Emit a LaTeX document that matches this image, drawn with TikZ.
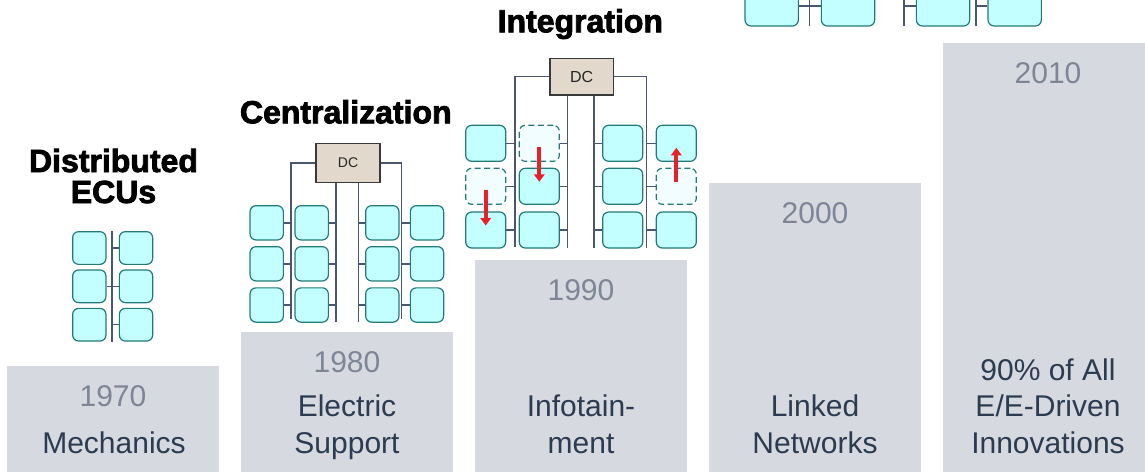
\documentclass[tikz,border=0pt]{standalone}
\usepackage{fontspec}
\setmainfont{Liberation Sans}
\newfontfamily\titlefont[FakeBold=2.5]{Liberation Sans Bold}
\usetikzlibrary{arrows.meta}

\definecolor{barfill}{HTML}{D6D9E0}
\definecolor{yeartext}{HTML}{7E8696}
\definecolor{labeltext}{HTML}{2C3B50}
\definecolor{ecufill}{HTML}{C4FFFF}
\definecolor{ecuborder}{HTML}{227A78}
\definecolor{ghostfill}{HTML}{F2FDFF}
\definecolor{busline}{HTML}{4A5570}
\definecolor{dcfill}{HTML}{E2D9CC}
\definecolor{dcborder}{HTML}{3A3A3A}
\definecolor{movered}{HTML}{E8202A}

\begin{document}
\begin{tikzpicture}[
  x=1pt, y=-1pt,
  bar/.style={fill=barfill, draw=none, minimum width=212pt, inner sep=0pt, outer sep=0pt},
  yearlbl/.style={text=yeartext, font=\fontsize{30}{36}\selectfont, anchor=base, inner sep=0pt},
  steplbl/.style={text=labeltext, font=\fontsize{30}{36}\selectfont, anchor=base, inner sep=0pt},
  title/.style={text=black, font=\titlefont\fontsize{32}{32}\selectfont, anchor=base, inner sep=0pt},
  ecu/.style={draw=ecuborder, fill=ecufill, line width=1.2pt, rounded corners=6pt, inner sep=0pt},
  ghost/.style={ecu, fill=ghostfill, dash pattern=on 6pt off 3.5pt},
  dcbox/.style={draw=dcborder, fill=dcfill, line width=1.3pt, inner sep=0pt, text=black!85},
  bus/.style={draw=busline, line width=1.5pt},
  move/.style={draw=movered, line width=4pt, -{Triangle[length=7.5pt, width=10.5pt]}, shorten <=4pt, shorten >=4.5pt},
]
\useasboundingbox (0,0) rectangle (1145,471);

% ---------- timeline bars ----------
\foreach \i/\x/\t in {1/7/366, 2/241/332, 3/475/260, 4/709/183, 5/943/43}
  \node[bar, anchor=north west, minimum height={(480-\t)*1pt}] (bar\i) at (\x,\t) {};

\node[yearlbl] (y1970) at (113,406.7) {1970};
\node[steplbl] (l1a) at (114,453.3) {Mechanics};

\node[yearlbl] (y1980) at (347,372.7) {1980};
\node[steplbl] (l2a) at (347,416.8) {Electric};
\node[steplbl] (l2b) at (347,453.3) {Support};

\node[yearlbl] (y1990) at (581,300.7) {1990};
\node[steplbl] (l3a) at (581,416.8) {Infotain-};
\node[steplbl] (l3b) at (581,453.3) {ment};

\node[yearlbl] (y2000) at (815,223.7) {2000};
\node[steplbl] (l4a) at (815,416.8) {Linked};
\node[steplbl] (l4b) at (815,453.3) {Networks};

\node[yearlbl] (y2010) at (1048,83.7) {2010};
\node[steplbl] (l5a) at (1048,380.3) {90\% of All};
\node[steplbl] (l5b) at (1048,416.8) {E/E-Driven};
\node[steplbl] (l5c) at (1048,453.3) {Innovations};

% ---------- titles ----------
\node[title] (tDist1) at (113.5,172) {Distributed};
\node[title] (tDist2) at (113.5,203) {ECUs};
\node[title] (tCent) at (345.8,123.3) {Centralization};
\node[title] (tInt) at (580.3,32.3) {Integration};

% ---------- distributed ECUs ----------
\foreach \r/\y in {1/248, 2/286.3, 3/324.7} {
  \node[ecu, minimum width=33.3pt, minimum height=32.7pt] (dL\r) at (89.3,\y) {};
  \node[ecu, minimum width=33.3pt, minimum height=32.7pt] (dR\r) at (136,\y) {};
}
\coordinate (dBusTop) at (112,231);
\coordinate (dBusBot) at (112,342);
\draw[bus] (dBusTop) -- (dBusBot);
\draw[bus] (dR1.west) -- (dR1.west -| dBusTop);
\draw[bus] (dL2.east) -- (dR2.west);
\draw[bus] (dR3.west) -- (dR3.west -| dBusTop);

% ---------- centralization ----------
\node[dcbox, minimum width=64pt, minimum height=39pt, font=\fontsize{14}{14}\selectfont] (cDC) at (348,162.8) {DC};
\foreach \r/\y in {1/222.8, 2/263.8, 3/305} {
  \foreach \c/\x in {1/266.7, 2/311.7, 3/382.3, 4/427}
    \node[ecu, minimum width=33.3pt, minimum height=34.3pt] (c\c\r) at (\x,\y) {};
}
\coordinate (cB1top) at (291,162.8);
\coordinate (cB1bot) at (291,319);
\coordinate (cB2bot) at (336,322);
\coordinate (cB3bot) at (358.3,322);
\coordinate (cB4top) at (401.7,162.8);
\coordinate (cB4bot) at (401.7,319);
\draw[bus] (cDC.west) -- (cB1top) -- (cB1bot);
\draw[bus] (cDC.south -| cB2bot) -- (cB2bot);
\draw[bus] (cDC.south -| cB3bot) -- (cB3bot);
\draw[bus] (cDC.east) -- (cB4top) -- (cB4bot);
\foreach \r in {1,2,3} {
  \draw[bus] (c1\r.east) -- (c1\r.east -| cB1top);
  \draw[bus] (c2\r.east) -- (c2\r.east -| cB2bot);
  \draw[bus] (c3\r.west) -- (c3\r.west -| cB3bot);
  \draw[bus] (c4\r.west) -- (c4\r.west -| cB4top);
}

% ---------- integration ----------
\node[dcbox, minimum width=63.3pt, minimum height=36.7pt, font=\fontsize{16}{16}\selectfont] (iDC) at (581.7,76.7) {DC};
\foreach \r/\y in {1/143.3, 2/186.3, 3/230} {
  \foreach \c/\x in {1/485.7, 2/539.3, 3/622.7, 4/676.3} {
    \ifnum\c\r=12 \def\kind{ghost}\else
    \ifnum\c\r=21 \def\kind{ghost}\else
    \ifnum\c\r=42 \def\kind{ghost}\else
    \def\kind{ecu}\fi\fi\fi
    \node[\kind, minimum width=40pt, minimum height=36pt] (i\c\r) at (\x,\y) {};
  }
}
\coordinate (iB1top) at (515,76.7);
\coordinate (iB1bot) at (515,247);
\coordinate (iB2bot) at (567.7,248);
\coordinate (iB3bot) at (594,248);
\coordinate (iB4top) at (646.7,76.7);
\coordinate (iB4bot) at (646.7,248);
\draw[bus] (iDC.west) -- (iB1top) -- (iB1bot);
\draw[bus] (iDC.south -| iB2bot) -- (iB2bot);
\draw[bus] (iDC.south -| iB3bot) -- (iB3bot);
\draw[bus] (iDC.east) -- (iB4top) -- (iB4bot);
\foreach \r in {1,2,3} {
  \draw[bus] (i1\r.east) -- (i1\r.east -| iB1top);
  \draw[bus] (i2\r.east) -- (i2\r.east -| iB2bot);
  \draw[bus] (i3\r.west) -- (i3\r.west -| iB3bot);
  \draw[bus] (i4\r.west) -- (i4\r.west -| iB4top);
}
\draw[move] (i12.center) -- (i13.center);
\draw[move] (i21.center) -- (i22.center);
\draw[move] (i42.center) -- (i41.center);

% ---------- networked ECUs (upper edge) ----------
\foreach \k/\x in {1/771.7, 2/848, 3/943, 4/1014.7}
  \node[ecu, minimum width=53.3pt, minimum height=40pt] (t\k) at (\x,6) {};
\coordinate (tAtop) at (809.3,-25);
\coordinate (tAbot) at (809.3,26);
\coordinate (tBtop) at (904,-25);
\coordinate (tBbot) at (904,26);
\coordinate (tCtop) at (976,-25);
\coordinate (tCbot) at (976,26);
\draw[bus] (tAtop) -- (tAbot);
\draw[bus] (tBtop) -- (tBbot);
\draw[bus] (tCtop) -- (tCbot);
\draw[bus] (t1.east) -- (t2.west);
\draw[bus] (t3.west) -- (t3.west -| tBtop);
\draw[bus] (t4.west) -- (t4.west -| tCtop);
\end{tikzpicture}
\end{document}
